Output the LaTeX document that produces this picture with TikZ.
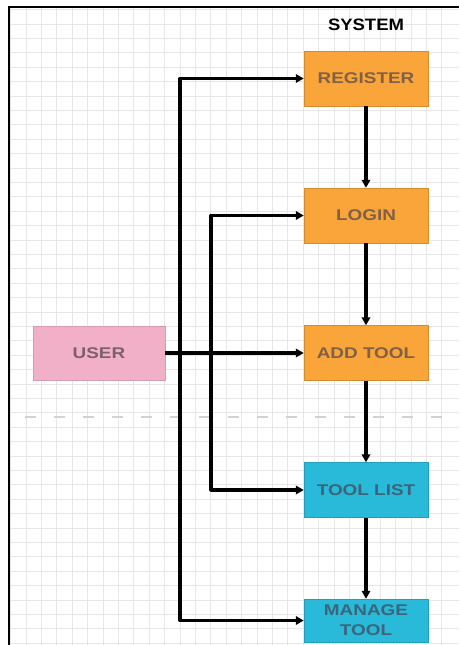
\documentclass[tikz,border=0pt]{standalone}
\usepackage{fontspec}
\setmainfont{Liberation Sans}
\newfontfamily\boxfont[FakeStretch=1.22]{Liberation Sans}
\newfontfamily\sysfont[FakeStretch=1.12]{Liberation Sans}
\usetikzlibrary{arrows.meta}
\definecolor{orangebox}{RGB}{250,165,58}
\definecolor{pinkbox}{RGB}{242,176,200}
\definecolor{cyanbox}{RGB}{40,186,216}
\definecolor{orangetext}{RGB}{128,96,70}
\definecolor{pinktext}{RGB}{125,95,110}
\definecolor{cyantext}{RGB}{60,100,122}
\definecolor{gridgray}{RGB}{230,230,230}
\definecolor{dashgray}{RGB}{210,210,210}
\begin{document}
\begin{tikzpicture}[x=1pt,y=-1pt,
  box/.style={minimum width=124pt, minimum height=55pt, inner sep=0pt,
    font=\boxfont\bfseries\fontsize{15.5}{20}\selectfont, align=center},
  orangenode/.style={box, fill=orangebox, draw=orangebox!85!black, line width=0.5pt, text=orangetext},
  cyannode/.style={box, fill=cyanbox, draw=cyanbox!85!black, line width=0.5pt, text=cyantext},
  pinknode/.style={box, minimum width=132pt, minimum height=54pt, fill=pinkbox, draw=pinkbox!88!black, line width=0.5pt, text=pinktext},
  conn/.style={line width=3.2pt, line join=round, -{Triangle[length=8pt,width=8.5pt]}},
  gridline/.style={gridgray, line width=0.7pt}]
\useasboundingbox (0,0) rectangle (459,645);
\fill[white] (0,0) rectangle (459,645);
% grid
\begin{scope}
\clip (10,8) rectangle (459,645);
\foreach \i in {0,...,28} {\draw[gridline] (10.6+15.4*\i,8) -- (10.6+15.4*\i,645);}
\foreach \j in {0,...,44} {\draw[gridline] (10,9.6+14.4*\j) -- (459,9.6+14.4*\j);}
\end{scope}
% border
\draw[line width=2.6pt] (9,645) -- (9,7) -- (459,7);
% dashed separator
\coordinate (d1) at (25,417);
\coordinate (d2) at (459,417);
\draw[dashgray, line width=2.2pt, dash pattern=on 11pt off 18pt] (d1) -- (d2);
% title
\node[font=\sysfont\bfseries\fontsize{16.5}{18}\selectfont] (system) at (366,25) {SYSTEM};
% boxes
\node[orangenode] (reg) at (366,78.5) {REGISTER};
\node[orangenode] (login) at (366,215.5) {LOGIN};
\node[orangenode] (add) at (366,353) {ADD TOOL};
\node[cyannode] (list) at (366,490) {TOOL LIST};
\node[cyannode, minimum height=43pt] (manage) at (366,620.5) {MANAGE\\TOOL};
\node[pinknode] (user) at (99,353) {USER};
% connectors
\coordinate (ja) at (180,353);
\coordinate (jb) at (211,353);
\draw[conn] (user.east) -- (add.west);
\draw[conn] (ja) |- (reg.west);
\draw[conn] (ja) |- (manage.west);
\draw[conn] (jb) |- (login.west);
\draw[conn] (jb) |- (list.west);
\draw[conn] (reg) -- (login);
\draw[conn] (login) -- (add);
\draw[conn] (add) -- (list);
\draw[conn] (list) -- (manage);
\end{tikzpicture}
\end{document}
